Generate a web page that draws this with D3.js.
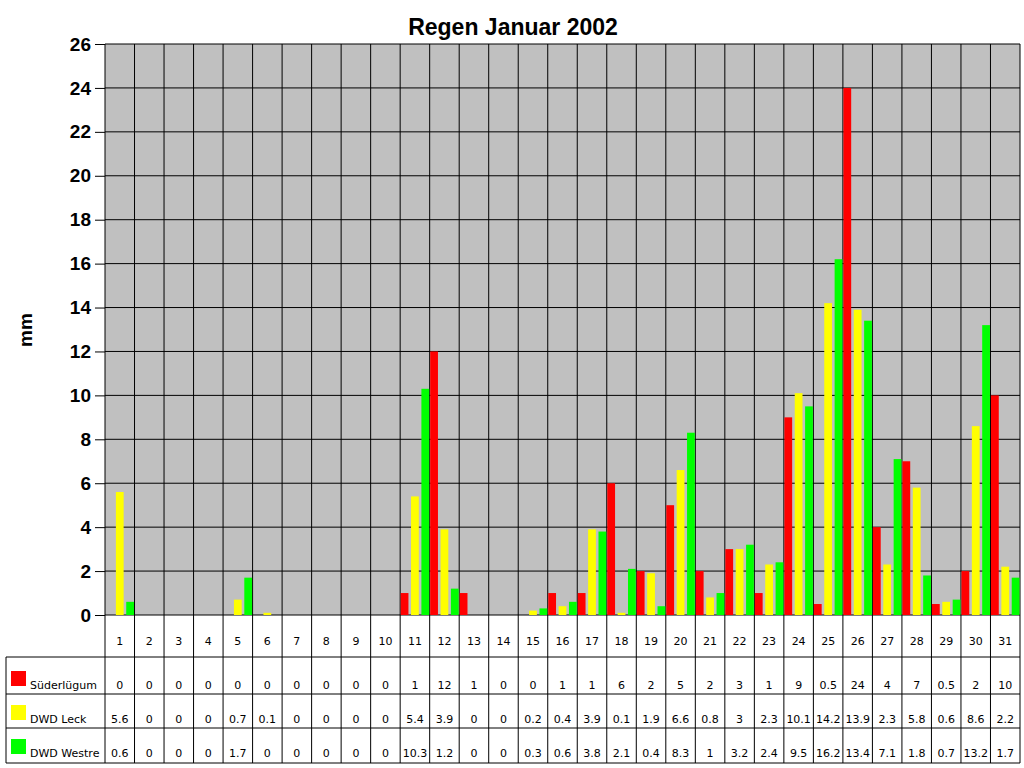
<!DOCTYPE html><html><head><meta charset="utf-8"><script src="https://cdn.jsdelivr.net/npm/d3@7"></script>
<style>body{margin:0;background:#fff}</style></head><body><svg id="c" width="1024" height="768"></svg><script>
const days = d3.range(1,32).map(String);
const seriesNames = ["Süderlügum","DWD Leck","DWD Westre"];
const colors = ["#FF0000","#FFFF00","#00FF00"];
const suederluegum = [0,0,0,0,0,0,0,0,0,0,1,12,1,0,0,1,1,6,2,5,2,3,1,9,0.5,24,4,7,0.5,2,10];
const leck = [5.6,0,0,0,0.7,0.1,0,0,0,0,5.4,3.9,0,0,0.2,0.4,3.9,0.1,1.9,6.6,0.8,3,2.3,10.1,14.2,13.9,2.3,5.8,0.6,8.6,2.2];
const westre = [0.6,0,0,0,1.7,0,0,0,0,0,10.3,1.2,0,0,0.3,0.6,3.8,2.1,0.4,8.3,1,3.2,2.4,9.5,16.2,13.4,7.1,1.8,0.7,13.2,1.7];
const yTicks = d3.range(0,27,2);
const series=[suederluegum,leck,westre];
const svg=d3.select("#c");
const L=105,R=1020,T=44,B=615;
const x=d3.scaleBand().domain(days).range([L,R]);
const xs=d3.scaleBand().domain([0,1,2]).range([0,x.bandwidth()]).paddingInner(0.25).paddingOuter(0.05);
const y=d3.scaleLinear().domain([0,26]).range([B,T]);
svg.append("rect").attr("x",L).attr("y",T).attr("width",R-L).attr("height",B-T).attr("fill","#C0C0C0");
svg.append("g").selectAll("line").data(yTicks).join("line").attr("x1",L).attr("x2",R).attr("y1",d=>y(d)).attr("y2",d=>y(d)).attr("stroke","#000");
svg.append("g").selectAll("line").data(d3.range(32)).join("line")
 .attr("x1",i=>L+i*x.step()).attr("x2",i=>L+i*x.step()).attr("y1",T).attr("y2",763).attr("stroke","#000");
svg.append("g").attr("transform",`translate(${L},0)`).call(d3.axisLeft(y).tickValues(yTicks).tickSize(10).tickPadding(4))
 .call(g=>{g.select(".domain").remove();g.selectAll("text").attr("font-family","Liberation Sans,Arial").attr("font-weight","bold").attr("font-size",19).attr("fill","#000");});
series.forEach((s,k)=>{
 svg.append("g").selectAll("rect").data(s).join("rect")
  .attr("x",(d,i)=>x(days[i])+xs(k)).attr("width",xs.bandwidth())
  .attr("y",d=>y(d)).attr("height",d=>B-y(d)).attr("fill",colors[k]);
});
svg.append("text").attr("x",513).attr("y",35).attr("text-anchor","middle").attr("font-family","Liberation Sans,Arial").attr("font-weight","bold").attr("font-size",23).text("Regen Januar 2002");
svg.append("text").attr("transform","translate(32,330) rotate(-90)").attr("text-anchor","middle").attr("font-family","Liberation Sans,Arial").attr("font-weight","bold").attr("font-size",19).text("mm");
// table
const rowLines=[657,694,728,763];
rowLines.forEach(v=>svg.append("line").attr("x1",6).attr("x2",R).attr("y1",v).attr("y2",v).attr("stroke","#000"));
svg.append("line").attr("x1",6).attr("x2",6).attr("y1",657).attr("y2",763).attr("stroke","#000");
const tf="DejaVu Sans,Tahoma,sans-serif";
svg.append("g").selectAll("text").data(days).join("text").attr("x",d=>x(d)+x.bandwidth()/2).attr("y",645).attr("text-anchor","middle").attr("font-family",tf).attr("font-size",11).text(d=>d);
const rowBase=[689,723,757];
series.forEach((s,k)=>{
 svg.append("rect").attr("x",11).attr("y",rowBase[k]-18).attr("width",15).attr("height",15).attr("fill",colors[k]);
 svg.append("text").attr("x",30).attr("y",rowBase[k]).attr("font-family",tf).attr("font-size",11).text(seriesNames[k]);
 svg.append("g").selectAll("text").data(s).join("text").attr("x",(d,i)=>x(days[i])+x.bandwidth()/2).attr("y",rowBase[k]).attr("text-anchor","middle").attr("font-family",tf).attr("font-size",11).text(d=>d);
});
</script></body></html>
